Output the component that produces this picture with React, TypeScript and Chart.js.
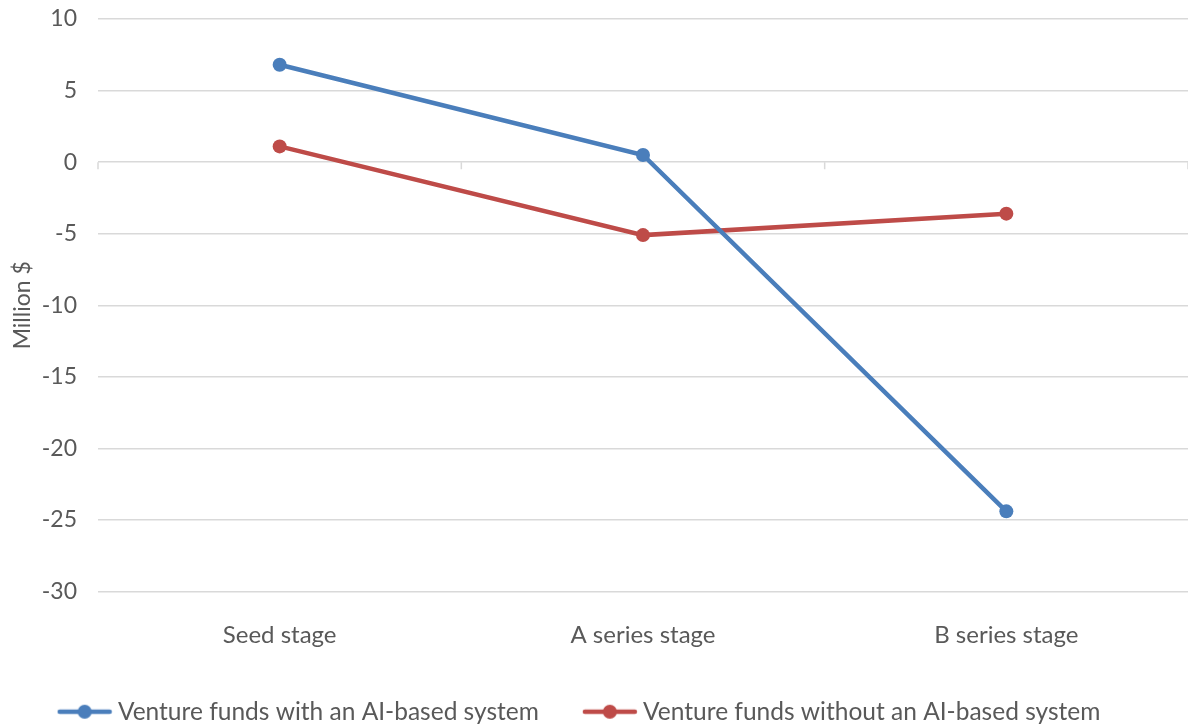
import React, { useEffect, useRef } from 'react';
import { Chart, registerables } from 'chart.js';

Chart.register(...registerables);

// data
const STAGES = ['Seed stage', 'A series stage', 'B series stage'];
const SERIES_NAMES = [
  'Venture funds with an AI-based system',
  'Venture funds without an AI-based system',
];
const WITH_AI = [6.8, 0.5, -24.4];
const WITHOUT_AI = [1.1, -5.1, -3.6];
const Y_MIN = -30;
const Y_MAX = 10;
const Y_STEP = 5;

const BLUE = '#4A7EBB';
const RED = '#BE4B48';
const GRID = '#D9D9D9';
const TEXT = '#595959';
const FONT = 'Lato';

// line + dot swatch, like the Excel legend
function legendIcon(color: string) {
  const c = document.createElement('canvas');
  c.width = 56;
  c.height = 18;
  const ctx = c.getContext('2d')!;
  ctx.strokeStyle = color;
  ctx.fillStyle = color;
  ctx.lineWidth = 4.5;
  ctx.lineCap = 'round';
  ctx.beginPath();
  ctx.moveTo(3, 9);
  ctx.lineTo(53, 9);
  ctx.stroke();
  ctx.beginPath();
  ctx.arc(28, 9, 7, 0, Math.PI * 2);
  ctx.fill();
  return c;
}

// small tick marks hanging off the zero line, between categories
const zeroAxisTicks = {
  id: 'zeroAxisTicks',
  beforeDatasetsDraw(chart: Chart) {
    const x = chart.scales.x;
    const y = chart.scales.y;
    const y0 = y.getPixelForValue(0);
    const ctx = chart.ctx;
    const n = x.ticks.length;
    const half = n > 1 ? (x.getPixelForTick(1) - x.getPixelForTick(0)) / 2 : 0;
    ctx.save();
    ctx.strokeStyle = GRID;
    ctx.lineWidth = 1.5;
    ctx.beginPath();
    for (let i = 0; i <= n; i++) {
      const px = (i < n ? x.getPixelForTick(i) : x.getPixelForTick(n - 1) + 2 * half) - half;
      ctx.moveTo(px, y0);
      ctx.lineTo(px, y0 + 7);
    }
    ctx.stroke();
    ctx.restore();
  },
};

export default function App() {
  const ref = useRef<HTMLCanvasElement>(null);
  const chartRef = useRef<Chart | null>(null);

  useEffect(() => {
    document.body.style.margin = '0';
    if (!ref.current) return;
    chartRef.current?.destroy();
    const colors = [BLUE, RED];
    const icons = colors.map(legendIcon);

    chartRef.current = new Chart(ref.current, {
      type: 'line',
      data: {
        labels: STAGES,
        datasets: [WITH_AI, WITHOUT_AI].map((d, i) => ({
          label: SERIES_NAMES[i],
          data: d,
          borderColor: colors[i],
          backgroundColor: colors[i],
          borderWidth: 4.5,
          pointRadius: 7,
          pointHoverRadius: 7,
          pointBorderWidth: 0,
          tension: 0,
        })),
      },
      plugins: [zeroAxisTicks],
      options: {
        responsive: true,
        maintainAspectRatio: false,
        animation: false,
        // negative left/bottom padding only nudges the centred legend
        layout: { autoPadding: false, padding: { top: 19, right: 0, left: -24, bottom: -8 } },
        plugins: {
          tooltip: { enabled: false },
          legend: {
            position: 'bottom',
            labels: {
              color: TEXT,
              font: { family: FONT, size: 24.5 },
              usePointStyle: true,
              pointStyleWidth: 42,
              padding: 50,
              generateLabels: (chart) =>
                chart.data.datasets.map((ds, i) => ({
                  text: ds.label as string,
                  pointStyle: icons[i],
                  fillStyle: colors[i],
                  strokeStyle: colors[i],
                  lineWidth: 0,
                  hidden: false,
                  datasetIndex: i,
                  fontColor: TEXT,
                })),
            },
          },
        },
        scales: {
          x: {
            type: 'category',
            offset: true,
            grid: { display: false, drawTicks: false },
            border: { display: false },
            ticks: { color: TEXT, font: { family: FONT, size: 24, lineHeight: 1 }, padding: 32, maxRotation: 0 },
            afterFit: (s) => { s.height = 58; },
          },
          y: {
            min: Y_MIN,
            max: Y_MAX,
            ticks: { stepSize: Y_STEP, color: TEXT, font: { family: FONT, size: 23 }, padding: 0 },
            grid: { color: GRID, lineWidth: 1.5, drawTicks: true, tickLength: 21, tickColor: 'rgba(0,0,0,0)' },
            border: { display: false },
            title: { display: true, text: 'Million $', color: TEXT, font: { family: FONT, size: 23 }, padding: { top: 33, bottom: 0 } },
            afterFit: (s) => { s.width = 122; },
          },
        },
      },
    });
    return () => chartRef.current?.destroy();
  }, []);

  return (
    <div style={{ position: 'relative', width: 1188, height: 726 }}>
      <canvas ref={ref} />
    </div>
  );
}
